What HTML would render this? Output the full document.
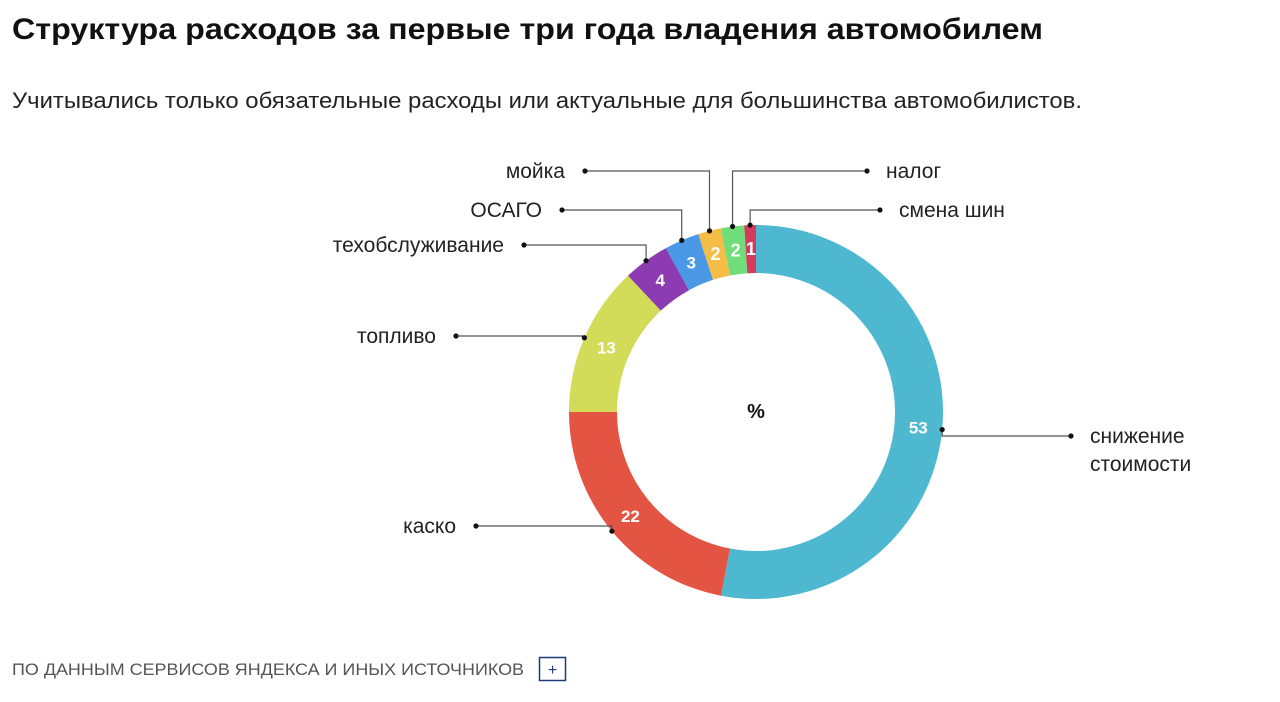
<!DOCTYPE html>
<html><head><meta charset="utf-8"><style>
html,body{margin:0;padding:0;background:#fff;width:1280px;height:702px;overflow:hidden}
svg{display:block;font-family:"Liberation Sans","DejaVu Sans",sans-serif}
</style></head><body>
<svg id="chart" width="1280" height="702" viewBox="0 0 1280 702" xmlns="http://www.w3.org/2000/svg">
<text x="12" y="39" font-size="30" font-weight="bold" fill="#111" textLength="1031" lengthAdjust="spacingAndGlyphs">Структура расходов за первые три года владения автомобилем</text>
<text x="12" y="108" font-size="22" fill="#222" textLength="1070" lengthAdjust="spacingAndGlyphs">Учитывались только обязательные расходы или актуальные для большинства автомобилистов.</text>
<g id="donut"></g>
<g id="leaders"></g>
<text x="756" y="418" font-size="20" font-weight="bold" fill="#111" text-anchor="middle">%</text>
<text x="12" y="675" font-size="17" fill="#555" textLength="512" lengthAdjust="spacingAndGlyphs">ПО ДАННЫМ СЕРВИСОВ ЯНДЕКСА И ИНЫХ ИСТОЧНИКОВ</text>
<g>
<rect x="539.5" y="657.5" width="26" height="23" fill="#fff" stroke="#1e3a78" stroke-width="1.5"/>
<text x="552.5" y="675" font-size="16" fill="#1e3a78" text-anchor="middle">+</text>
</g>
</svg>
<script>
const categories = ["снижение стоимости","каско","топливо","техобслуживание","ОСАГО","мойка","налог","смена шин"];
const values = [53,22,13,4,3,2,2,1];
const colors = ["#4fb8d1","#e35442","#d3dc59","#8d3bb0","#4a98e6","#f5bd45","#6edd7a","#d63a5c"];
const labelLines = [["снижение","стоимости"],["каско"],["топливо"],["техобслуживание"],["ОСАГО"],["мойка"],["налог"],["смена шин"]];
const labelY = [436,526,336,245,210,171,171,210];
const labelSide = ["right","left","left","left","left","left","right","right"];
const labelDotX = [1071,476,456,524,562,585,867,880];

const NS="http://www.w3.org/2000/svg";
const cx=756, cy=412, R=187, r=139;
const total=values.reduce((a,b)=>a+b,0);
function pt(frac,rad){const a=frac*2*Math.PI;return [cx+rad*Math.sin(a), cy-rad*Math.cos(a)];}
const donut=document.getElementById('donut');
const leaders=document.getElementById('leaders');
const svg=document.getElementById('chart');
let acc=0;
values.forEach((v,i)=>{
  const f0=acc/total, f1=(acc+v)/total; acc+=v;
  const large=(f1-f0)>0.5?1:0;
  const [x0,y0]=pt(f0,R),[x1,y1]=pt(f1,R),[x2,y2]=pt(f1,r),[x3,y3]=pt(f0,r);
  const p=document.createElementNS(NS,'path');
  p.setAttribute('d',`M${x0},${y0} A${R},${R} 0 ${large} 1 ${x1},${y1} L${x2},${y2} A${r},${r} 0 ${large} 0 ${x3},${y3} Z`);
  p.setAttribute('fill',colors[i]);
  
  
  donut.appendChild(p);
  const fm=(f0+f1)/2;
  const [tx,ty]=pt(fm,(R+r)/2);
  const t=document.createElementNS(NS,'text');
  t.setAttribute('x',tx);t.setAttribute('y',ty+6);
  t.setAttribute('text-anchor','middle');t.setAttribute('font-size',v<3?'18':'17');
  t.setAttribute('font-weight','bold');t.setAttribute('fill','#fff');
  t.textContent=v;
  
  
  donut.appendChild(t);
  // leader
  const [ax,ay]=pt(fm,R);
  const ly=labelY[i], dx=labelDotX[i];
  const pl=document.createElementNS(NS,'polyline');
  pl.setAttribute('points',`${dx},${ly} ${ax},${ly} ${ax},${ay}`);
  pl.setAttribute('fill','none');pl.setAttribute('stroke','#555');pl.setAttribute('stroke-width','1.2');
  
  
  leaders.appendChild(pl);
  [[dx,ly],[ax,ay]].forEach(([qx,qy])=>{
    const c=document.createElementNS(NS,'circle');
    c.setAttribute('cx',qx);c.setAttribute('cy',qy);c.setAttribute('r','2.6');c.setAttribute('fill','#111');
    
    
    leaders.appendChild(c);
  });
  const lab=document.createElementNS(NS,'text');
  const right=labelSide[i]==='right';
  lab.setAttribute('x',right?dx+19:dx-20);
  lab.setAttribute('y',ly+7);
  lab.setAttribute('text-anchor',right?'start':'end');
  lab.setAttribute('font-size','21');lab.setAttribute('fill','#222');
  labelLines[i].forEach((s,k)=>{
    const ts=document.createElementNS(NS,'tspan');
    ts.setAttribute('x',right?dx+19:dx-20);
    if(k>0) ts.setAttribute('dy','28');
    ts.textContent=s;
    lab.appendChild(ts);
  });
  
  
  svg.appendChild(lab);
});
</script>
</body></html>
